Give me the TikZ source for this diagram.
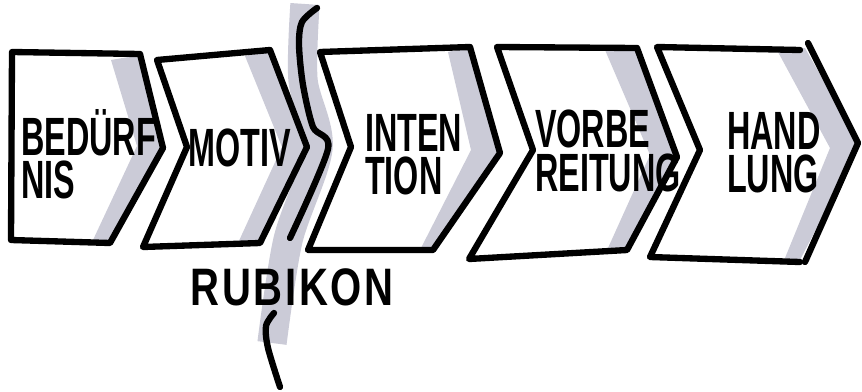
\documentclass[tikz,border=0pt]{standalone}
\usepackage{fontspec}
\newfontfamily\handfont[FakeStretch=0.6]{Liberation Sans}
\newfontfamily\rubifont[FakeStretch=0.76,LetterSpace=5]{Liberation Sans}
\usepackage{tikz}
\usetikzlibrary{calc}
\definecolor{bandgray}{RGB}{203,203,215}

\begin{document}
\begin{tikzpicture}[x=0.03cm, y=-0.03cm,
  chev/.style={draw, line width=5.4pt, line join=round, line cap=round},
  band/.style={fill=bandgray, draw=none},
  lbl/.style={font=\handfont\bfseries\fontsize{46pt}{37pt}\selectfont,
              align=left, inner sep=0pt, anchor=west},
  rubi/.style={font=\rubifont\bfseries\fontsize{45pt}{37pt}\selectfont, inner sep=0pt}]
  \useasboundingbox (0,0) rectangle (862,392);
  % rubicon shading
  \draw[bandgray, line width=25pt] plot[smooth] coordinates {(305,4) (303,80) (318,148) (288,240) (272,343)};
  % shading on the chevrons
  \fill[band] (111,60) -- (140,55) -- (163,148) -- (110,243) -- (93,240) -- (137,146) -- cycle;
  \fill[band] (245,56) -- (270,50) -- (307,147) -- (260,243) -- (238,243) -- (282,147) -- cycle;
  \fill[band] (448,52) -- (470,47) -- (500,153) -- (433,250) -- (421,248) -- (471,150) -- cycle;
  \fill[band] (605,50) -- (637,48) -- (677,157) -- (627,250) -- (608,248) -- (650,155) -- cycle;
  \fill[band] (778,52) -- (805,48) -- (860,145) -- (800,260) -- (785,258) -- (830,148) -- cycle;
  % chevrons
  \draw[chev] (12,52) -- (140,54) -- (163,148) -- (110,243) -- (11,240) -- cycle;
  \draw[chev] (157,60) -- (270,50) -- (307,147) -- (260,243) -- (143,247) -- (187,147) -- cycle;
  \draw[chev] (320,52) -- (470,47) -- (500,153) -- (433,250) -- (308,250) -- (351,147) -- cycle;
  \draw[chev] (497,47) -- (637,48) -- (677,157) -- (627,250) -- (469,259) -- (533,150) -- cycle;
  \draw[chev] (800,50) -- (657,47) -- (700,150) -- (650,257) -- (800,262);
  \draw[chev] (808,43) -- (858,143) -- (805,262);
  % rubicon line
  \draw[chev] plot[smooth] coordinates {(317,8) (302,22) (299,45) (303,85) (313,127) (328,149) (290,238)};
  \draw[chev] plot[smooth] coordinates {(274,313) (266,326) (268,348) (280,387)};
  % labels
  \node[lbl] (bed) at (21,154) {BEDÜRF\\NIS};
  \node[lbl, anchor=center] (mot) at (240,148) {MOTIV};
  \node[lbl] (int) at (365,155) {INTEN\\TION};
  \node[lbl] (vor) at (535,151) {VORBE\\REITUNG};
  \node[lbl] (han) at (727,153) {HAND\\LUNG};
  \node[rubi] (rub) at (292,287) {RUBIKON};
\end{tikzpicture}
\end{document}
